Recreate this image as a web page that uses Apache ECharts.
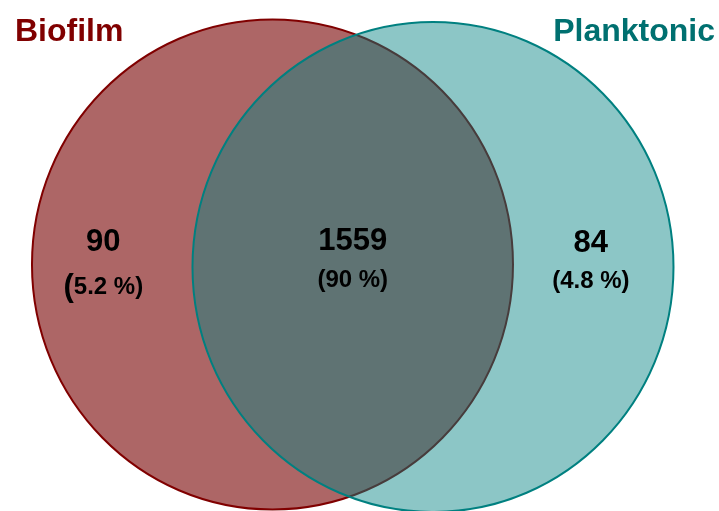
<!DOCTYPE html>
<html>
<head>
<meta charset="utf-8">
<script src="https://cdn.jsdelivr.net/npm/echarts@6/dist/echarts.min.js"></script>
<style>
html,body{margin:0;padding:0;background:#fff;}
#chart{width:719px;height:511px;}
</style>
</head>
<body>
<div id="chart"></div>
<script>
// ---- data ----
const setNames = ['Biofilm', 'Planktonic'];
const onlyCounts = [90, 84];
const sharedCount = 1559;
const onlyPct = ['5.2 %', '4.8 %'];
const sharedPct = '90 %';

// ---- layout (abstract Venn units, radius = 1) ----
const circleCx = [-0.3337, 0.3337];
const circleCy = [0, -0.0102];
const circleR = [1, 1];
const labelX = [-1.037, 0, 0.99];
const countY = [0.09, 0.096, 0.086];
const pctY = [-0.094, -0.063, -0.067];

const fills = ['#AD6666', 'rgba(5,131,131,0.46)'];
const strokes = ['#800000', '#008080'];
const titleColors = ['#800000', '#007070'];
const FONT = '"Liberation Sans", Arial, sans-serif';

const circleData = circleCx.map((cx, i) => [cx, circleCy[i], circleR[i], i]);
const labelData = [
  [labelX[0], countY[0], String(onlyCounts[0]), 'count'],
  [labelX[0], pctY[0], onlyPct[0], 'pctL'],
  [labelX[1], countY[1], String(sharedCount), 'count'],
  [labelX[1], pctY[1], sharedPct, 'pct'],
  [labelX[2], countY[2], String(onlyCounts[1]), 'count'],
  [labelX[2], pctY[2], onlyPct[1], 'pct']
];

const chart = echarts.init(document.getElementById('chart'));
chart.setOption({
  animation: false,
  backgroundColor: '#ffffff',
  grid: {left: 0, top: 0, width: 719, height: 511},
  xAxis: {type: 'value', min: -1.4667, max: 1.5229, show: false},
  yAxis: {type: 'value', min: -1.0061, max: 1.0796, show: false},
  graphic: [
    {type: 'text', left: 15, top: 16, style: {text: setNames[0], font: 'bold 32px ' + FONT, fill: titleColors[0]}},
    {type: 'text', right: 4, top: 16, style: {text: setNames[1], font: 'bold 32px ' + FONT, fill: titleColors[1]}}
  ],
  series: [
    {
      type: 'custom',
      coordinateSystem: 'cartesian2d',
      data: circleData,
      silent: true,
      clip: false,
      renderItem: function (params, api) {
        const c = api.coord([api.value(0), api.value(1)]);
        const s = api.size([api.value(2), api.value(2)]);
        const i = api.value(3);
        return {
          type: 'ellipse',
          shape: {cx: c[0], cy: c[1], rx: s[0], ry: s[1]},
          style: {fill: fills[i], stroke: strokes[i], lineWidth: 2}
        };
      }
    },
    {
      type: 'custom',
      coordinateSystem: 'cartesian2d',
      data: labelData,
      silent: true,
      z: 5,
      renderItem: function (params, api) {
        const d = labelData[params.dataIndex];
        const c = api.coord([d[0], d[1]]);
        const kind = d[3];
        let style;
        if (kind === 'count') {
          style = {text: d[2], font: 'bold 31px ' + FONT, fill: '#000', align: 'center', verticalAlign: 'middle'};
        } else if (kind === 'pctL') {
          style = {
            text: '{b|(}{a|' + d[2] + ')}',
            fill: '#000', align: 'center', verticalAlign: 'middle',
            rich: {
              a: {font: 'bold 24px ' + FONT, fill: '#000'},
              b: {font: 'bold 31px ' + FONT, fill: '#000'}
            }
          };
        } else {
          style = {text: '(' + d[2] + ')', font: 'bold 24px ' + FONT, fill: '#000', align: 'center', verticalAlign: 'middle'};
        }
        return {type: 'text', x: c[0], y: c[1], style: style};
      }
    }
  ]
});
</script>
</body>
</html>
